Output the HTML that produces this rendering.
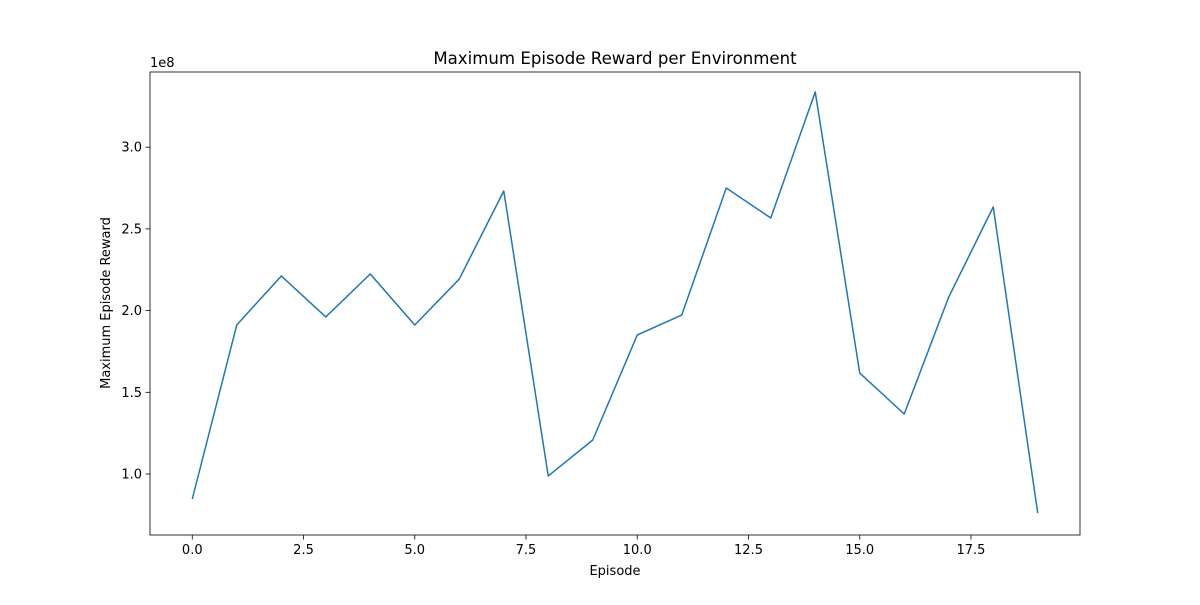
<!DOCTYPE html>
<html><head><meta charset="utf-8"><style>
body{margin:0;background:#fff;font-family:"Liberation Sans","DejaVu Sans",sans-serif;}
svg text{font-family:"DejaVu Sans","Liberation Sans",sans-serif;fill:#000;}
</style></head><body>
<svg id="chart" width="1200" height="600" xmlns="http://www.w3.org/2000/svg">
<rect width="1200" height="600" fill="#fff"/>
<text x="615" y="64" text-anchor="middle" font-size="16.6">Maximum Episode Reward per Environment</text>
<text x="615" y="575" text-anchor="middle" font-size="13">Episode</text>
<text transform="translate(110,303) rotate(-90)" text-anchor="middle" font-size="13">Maximum Episode Reward</text>
<text x="150" y="67" font-size="13">1e8</text>
</svg>
<script>
const episodes=[0,1,2,3,4,5,6,7,8,9,10,11,12,13,14,15,16,17,18,19];
const rewards=[0.847,1.912,2.212,1.961,2.224,1.912,2.193,2.732,0.988,1.208,1.851,1.973,2.750,2.567,3.338,1.618,1.367,2.083,2.634,0.761];
const xTicks=[0,2.5,5,7.5,10,12.5,15,17.5];
const xTickLabels=["0.0","2.5","5.0","7.5","10.0","12.5","15.0","17.5"];
const yTicks=[1.0,1.5,2.0,2.5,3.0];
const yTickLabels=["1.0","1.5","2.0","2.5","3.0"];

const L=150,R=1080,T=72,B=535;
const xMin=-0.95,xMax=19.95;
const yMin=1-(B-474)/163.4,yMax=1+(474-T)/163.4;
const X=v=>L+(v-xMin)/(xMax-xMin)*(R-L);
const Y=v=>B-(v-yMin)/(yMax-yMin)*(B-T);
const NS="http://www.w3.org/2000/svg";
const svg=document.getElementById('chart');
function mk(tag,attrs){const e=document.createElementNS(NS,tag);for(const k in attrs)e.setAttribute(k,attrs[k]);svg.appendChild(e);return e;}

xTicks.forEach((t,i)=>{
  const l=mk('line',{x1:X(t),x2:X(t),y1:B,y2:B+4.5,stroke:'#000','stroke-width':0.8});
  
  
  const tx=mk('text',{x:X(t),y:B+19,'text-anchor':'middle','font-size':13});
  tx.textContent=xTickLabels[i];
  
  
});
yTicks.forEach((t,i)=>{
  const l=mk('line',{x1:L-4.5,x2:L,y1:Y(t),y2:Y(t),stroke:'#000','stroke-width':0.8});
  
  
  const tx=mk('text',{x:L-8,y:Y(t)+4.5,'text-anchor':'end','font-size':13});
  tx.textContent=yTickLabels[i];
  
  
});
const pts=episodes.map((e,i)=>X(e)+','+Y(rewards[i])).join(' ');
const line=mk('polyline',{points:pts,fill:'none',stroke:'#1f77b4','stroke-width':1.5,'stroke-linejoin':'round'});


const frame=mk('rect',{x:L,y:T,width:R-L,height:B-T,fill:'none',stroke:'#000','stroke-width':0.8});


</script>
</body></html>
